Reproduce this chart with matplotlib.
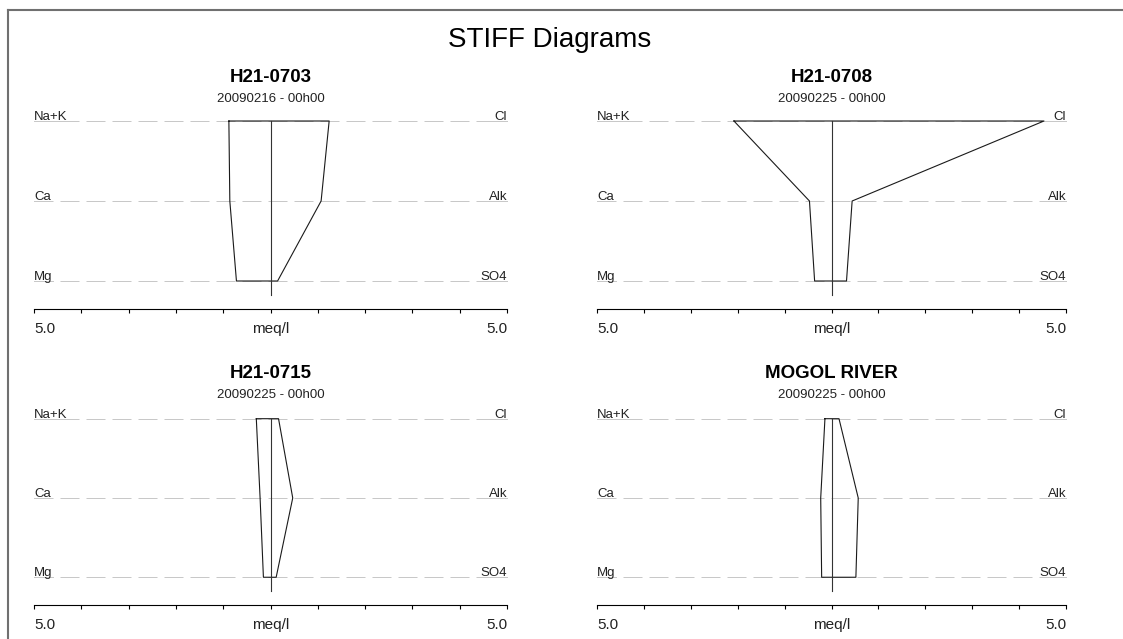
import matplotlib
matplotlib.use('Agg')
import matplotlib.pyplot as plt
from matplotlib.lines import Line2D

plt.rcParams['font.family'] = ['Liberation Sans', 'DejaVu Sans']

# Datos (meq/l)
ions_left = ['Na+K', 'Ca', 'Mg']
ions_right = ['Cl', 'Alk', 'SO4']
stations = ['H21-0703', 'H21-0708', 'H21-0715', 'MOGOL RIVER']
dates = ['20090216 - 00h00', '20090225 - 00h00', '20090225 - 00h00', '20090225 - 00h00']
cations = [[0.88, 0.86, 0.72],
           [2.08, 0.47, 0.36],
           [0.30, 0.22, 0.15],
           [0.14, 0.23, 0.21]]
anions = [[1.24, 1.07, 0.15],
          [4.53, 0.44, 0.32],
          [0.17, 0.47, 0.12],
          [0.16, 0.57, 0.52]]
ticks = [-5, -4, -3, -2, -1, 0, 1, 2, 3, 4, 5]
rows = [2, 1, 0]

W, H = 1123, 639
fig = plt.figure(figsize=(W / 100, H / 100), dpi=100)

# cajas de los paneles en pixeles: izq, der, fila superior, eje
boxes = [(34, 507, 121, 309), (597, 1066, 121, 309),
         (34, 507, 418.7, 605), (597, 1066, 418.7, 605)]

labels = []
for i, (l, r, t, b) in enumerate(boxes):
    ax = fig.add_axes([l / W, 1 - b / H, (r - l) / W, (b - t) / H])
    ax.set_xlim(-5, 5)
    ax.set_ylim(-0.35, 2)
    ax.patch.set_visible(False)
    for s in ['left', 'right', 'top']:
        ax.spines[s].set_visible(False)
    ax.spines['bottom'].set_linewidth(0.8)
    ax.set_xticks(ticks)
    ax.set_yticks([])
    ax.tick_params(axis='x', direction='out', length=3.2, width=0.8, labelbottom=False)

    # lineas de iones
    for y, nl, nr in zip(rows, ions_left, ions_right):
        ax.plot([-5, 5], [y, y], color='#c8c8c8', lw=0.72, dashes=(19, 7), clip_on=False)
        tl = ax.annotate(nl, xy=(-5, y), xytext=(0, 1), textcoords='offset pixels',
                         ha='left', va='baseline', fontsize=9.5, color='#222222')
        tr = ax.annotate(nr, xy=(5, y), xytext=(0, 1), textcoords='offset pixels',
                         ha='right', va='baseline', fontsize=9.5, color='#222222')
        labels.append((ax, tl, y))
        labels.append((ax, tr, y))

    # poligono de Stiff
    c = cations[i]
    a = anions[i]
    xs = [-c[0], -c[1], -c[2], a[2], a[1], a[0], -c[0]]
    ys = [2, 1, 0, 0, 1, 2, 2]
    ax.plot(xs, ys, color='#1a1a1a', lw=0.8, clip_on=False)
    ax.plot([0, 0], [2, -0.175], color='#333333', lw=0.8, clip_on=False)

    # etiquetas del eje
    for x, txt, ha in [(-5, '5.0', 'left'), (0, 'meq/l', 'center'), (5, '5.0', 'right')]:
        ax.annotate(txt, xy=(x, 0), xycoords=('data', 'axes fraction'),
                    xytext=(0, -23.7), textcoords='offset pixels',
                    ha=ha, va='baseline', fontsize=11, color='#222222')

    off = 0 if i < 2 else 1
    ax.annotate(stations[i], xy=(0, 1), xycoords=('data', 'axes fraction'),
                xytext=(0, 39.3 + off), textcoords='offset pixels',
                ha='center', va='baseline', fontsize=13.5, weight='bold')
    ax.annotate(dates[i], xy=(0, 1), xycoords=('data', 'axes fraction'),
                xytext=(0, 19.3 + off), textcoords='offset pixels',
                ha='center', va='baseline', fontsize=9.5, color='#222222')

fig.text(550 / W, 1 - 46.7 / H, 'STIFF Diagrams', ha='center', va='baseline', fontsize=20)

# subrayado de las etiquetas
fig.canvas.draw()
for ax, t, y in labels:
    bb = t.get_window_extent()
    inv = ax.transData.inverted()
    x0 = inv.transform((bb.x0, 0))[0]
    x1 = inv.transform((bb.x1, 0))[0]
    ax.plot([x0, x1], [y, y], color='#c8c8c8', lw=0.72, clip_on=False)

# marco
fig.add_artist(Line2D([8 / W, 8 / W], [0, 1 - 10 / H], transform=fig.transFigure,
                      color='#707070', lw=1.5))
fig.add_artist(Line2D([8 / W, 1], [1 - 10 / H, 1 - 10 / H], transform=fig.transFigure,
                      color='#707070', lw=1.5))

fig.savefig('out.png', dpi=100)
